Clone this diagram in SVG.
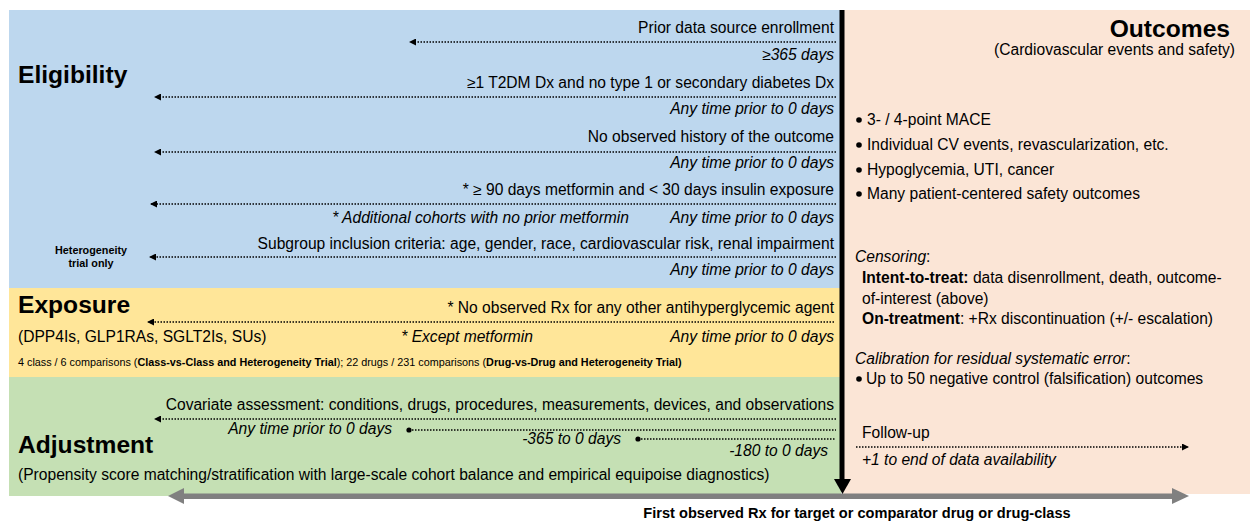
<svg xmlns="http://www.w3.org/2000/svg" width="1252" height="523" viewBox="0 0 1252 523">
<defs>
<style>
text{font-family:"Liberation Sans",Arial,sans-serif;fill:#000}
.t{font-size:15.6px}
.i{font-size:15.6px;font-style:italic}
.r{text-anchor:end}
.h{font-size:24.6px;font-weight:bold}
.s{font-size:10.8px}
.b{font-weight:bold}
.dl{stroke:#000;stroke-width:1.5;stroke-dasharray:1.5 1.5;fill:none}
</style>
<marker id="ah" markerUnits="userSpaceOnUse" markerWidth="7" markerHeight="7" refX="6" refY="3.5" orient="auto">
<path d="M0,0 L7,3.5 L0,7 z" fill="#000"/>
</marker>
<marker id="dot" markerUnits="userSpaceOnUse" markerWidth="6" markerHeight="6" refX="3" refY="3" orient="auto">
<circle cx="3" cy="3" r="2.6" fill="#000"/>
</marker>
</defs>

<g id="backgrounds">
<rect x="9" y="10" width="832" height="278" fill="#BDD7EE"/>
<rect x="9" y="288" width="832" height="89" fill="#FFE699"/>
<rect x="9" y="377" width="832" height="119" fill="#C5E0B4"/>
<rect x="843" y="10" width="407" height="484" fill="#FBE5D6"/>
</g>

<g id="eligibility">
<text class="h" x="18" y="83">Eligibility</text>
<text class="t r" x="834" y="33">Prior data source enrollment</text>
<text class="i r" x="834" y="60">≥365 days</text>
<text class="t r" x="834" y="88">≥1 T2DM Dx and no type 1 or secondary diabetes Dx</text>
<text class="i r" x="834" y="114">Any time prior to 0 days</text>
<text class="t r" x="834" y="142">No observed history of the outcome</text>
<text class="i r" x="834" y="168">Any time prior to 0 days</text>
<text class="t r" x="834" y="195">* ≥ 90 days metformin and &lt; 30 days insulin exposure</text>
<text class="i r" x="629" y="223">* Additional cohorts with no prior metformin</text>
<text class="i r" x="834" y="223">Any time prior to 0 days</text>
<text class="t r" x="834" y="249">Subgroup inclusion criteria: age, gender, race, cardiovascular risk, renal impairment</text>
<text class="i r" x="834" y="275">Any time prior to 0 days</text>
<text class="s b" x="91" y="254" text-anchor="middle">Heterogeneity</text>
<text class="s b" x="91" y="267" text-anchor="middle">trial only</text>
</g>

<g id="exposure">
<text class="h" x="18" y="313">Exposure</text>
<text class="t r" x="834" y="313">* No observed Rx for any other antihyperglycemic agent</text>
<text class="t" x="18" y="342">(DPP4Is, GLP1RAs, SGLT2Is, SUs)</text>
<text class="i r" x="533" y="342">* Except metformin</text>
<text class="i r" x="834" y="342">Any time prior to 0 days</text>
<text class="s" x="18" y="366">4 class / 6 comparisons (<tspan class="b">Class-vs-Class  and Heterogeneity Trial</tspan>); 22 drugs / 231 comparisons (<tspan class="b">Drug-vs-Drug and Heterogeneity Trial)</tspan></text>
</g>

<g id="adjustment">
<text class="h" x="18" y="453">Adjustment</text>
<text class="t r" x="834" y="410">Covariate assessment: conditions, drugs, procedures, measurements, devices, and observations</text>
<text class="i r" x="392" y="434">Any time prior to 0 days</text>
<text class="i r" x="621" y="444">-365 to 0 days</text>
<text class="i r" x="828" y="456">-180 to 0 days</text>
<text class="t" x="18" y="480">(Propensity score matching/stratification with large-scale cohort balance and empirical equipoise diagnostics)</text>
</g>

<g id="outcomes">
<text class="h r" x="1230" y="37">Outcomes</text>
<text class="t r" x="1235" y="55">(Cardiovascular events and safety)</text>
<g id="outcome-list">
<circle cx="859" cy="120" r="2.8" fill="#000"/>
<text class="t" x="867" y="125">3- / 4-point MACE</text>
<circle cx="859" cy="145" r="2.8" fill="#000"/>
<text class="t" x="867" y="150">Individual CV events, revascularization, etc.</text>
<circle cx="859" cy="170" r="2.8" fill="#000"/>
<text class="t" x="867" y="175">Hypoglycemia, UTI, cancer</text>
<circle cx="859" cy="194" r="2.8" fill="#000"/>
<text class="t" x="867" y="199">Many patient-centered safety outcomes</text>
</g>
<g id="censoring">
<text class="t" x="855" y="262"><tspan font-style="italic">Censoring</tspan>:</text>
<text class="t" x="862" y="283"><tspan class="b">Intent-to-treat:</tspan> data disenrollment, death, outcome-</text>
<text class="t" x="862" y="304">of-interest (above)</text>
<text class="t" x="862" y="324"><tspan class="b">On-treatment</tspan>: +Rx discontinuation (+/- escalation)</text>
</g>
<g id="calibration">
<text class="t" x="855" y="364"><tspan font-style="italic">Calibration for residual systematic error</tspan>:</text>
<circle cx="859" cy="379" r="2.8" fill="#000"/>
<text class="t" x="866" y="384">Up to 50 negative control (falsification) outcomes</text>
</g>
<g id="followup">
<text class="t" x="862" y="438">Follow-up</text>
<text class="i" x="862" y="465">+1 to end of data availability</text>
</g>
</g>

<g id="connectors">
<line class="dl" x1="836" y1="42" x2="410" y2="42" marker-end="url(#ah)"/>
<line class="dl" x1="836" y1="97" x2="155" y2="97" marker-end="url(#ah)"/>
<line class="dl" x1="836" y1="152" x2="155" y2="152" marker-end="url(#ah)"/>
<line class="dl" x1="836" y1="204" x2="151" y2="204" marker-end="url(#ah)"/>
<line class="dl" x1="836" y1="257" x2="150" y2="257" marker-end="url(#ah)"/>
<line class="dl" x1="834" y1="322" x2="148" y2="322" marker-end="url(#ah)"/>
<line class="dl" x1="836" y1="419" x2="155" y2="419" marker-end="url(#ah)"/>
<line class="dl" x1="409" y1="430" x2="836" y2="430" marker-start="url(#dot)"/>
<line class="dl" x1="638" y1="439" x2="836" y2="439" marker-start="url(#dot)"/>
<line class="dl" x1="856" y1="447" x2="1188" y2="447" marker-end="url(#ah)"/>
<g id="timeline">
<rect x="183" y="493.5" width="990" height="5.5" fill="#808080"/>
<polygon points="168,496 184,488 184,504" fill="#808080"/>
<polygon points="1189,496 1172,488 1172,504" fill="#808080"/>
</g>
<g id="index-arrow">
<rect x="839.5" y="10" width="5" height="471" fill="#000"/>
<polygon points="834,479 851,479 842.5,494" fill="#000"/>
</g>
</g>
<text class="b" x="857" y="518" font-size="14.6" text-anchor="middle">First observed Rx for target or comparator drug or drug-class</text>
</svg>
